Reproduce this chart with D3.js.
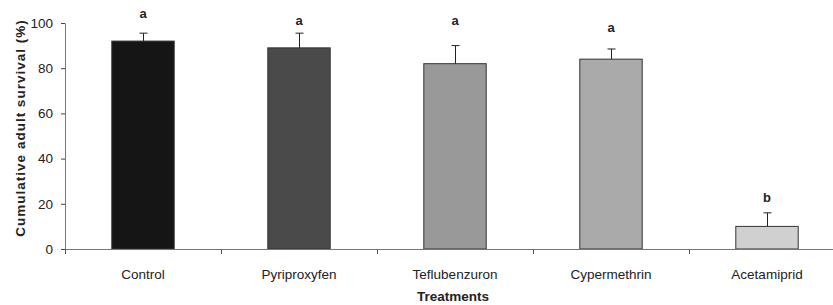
<!DOCTYPE html>
<html>
<head>
<meta charset="utf-8">
<script src="https://cdn.jsdelivr.net/npm/d3@7"></script>
<style>
  body { margin: 0; background: #fff; }
  svg { display: block; font-family: "Liberation Sans", Arial, sans-serif; }
</style>
</head>
<body>
<svg id="chart" width="833" height="305"></svg>
<script>
// Data
const treatments = ["Control", "Pyriproxyfen", "Teflubenzuron", "Cypermethrin", "Acetamiprid"];
const survival = [92, 89, 82, 84, 10];
const errors = [3.5, 6.5, 8, 4.5, 6];
const letters = ["a", "a", "a", "a", "b"];
const letterPos = [104.4, 101, 101, 97.9, 22.6];
const barColors = ["#151515", "#4a4a4a", "#999999", "#aaaaaa", "#d0d0d0"];
const yTicks = [0, 20, 40, 60, 80, 100];

const margin = { top: 23, left: 65, bottom: 56 };
const width = 833, height = 305;
const step = 156;

const $svg = d3.select("#chart");

const x = d3.scaleBand()
    .domain(treatments)
    .range([margin.left, margin.left + step * treatments.length])
    .padding(0);

const y = d3.scaleLinear()
    .domain([0, 100])
    .range([height - margin.bottom, margin.top]);

const barW = x.bandwidth() * 0.4;

// Bars
$svg.append("g")
  .selectAll("rect")
  .data(treatments)
  .join("rect")
    .attr("x", d => x(d) + (x.bandwidth() - barW) / 2)
    .attr("y", (d, i) => y(survival[i]))
    .attr("width", barW)
    .attr("height", (d, i) => y(0) - y(survival[i]))
    .attr("fill", (d, i) => barColors[i])
    .attr("stroke", "#333")
    .attr("stroke-width", 1);

// Error bars (upper only)
const $err = $svg.append("g").attr("stroke", "#222").attr("stroke-width", 1);
treatments.forEach((d, i) => {
    const cx = Math.round(x(d) + x.bandwidth() / 2) + 0.5;
    const top = y(survival[i] + errors[i]);
    $err.append("line")
        .attr("x1", cx).attr("x2", cx)
        .attr("y1", y(survival[i])).attr("y2", top);
    $err.append("line")
        .attr("x1", cx - 4).attr("x2", cx + 4)
        .attr("y1", top).attr("y2", top);
});

// Significance letters
$svg.append("g")
  .selectAll("text")
  .data(treatments)
  .join("text")
    .attr("x", d => x(d) + x.bandwidth() / 2)
    .attr("y", (d, i) => y(letterPos[i]))
    .attr("dy", "0.35em")
    .attr("text-anchor", "middle")
    .attr("font-size", 13)
    .attr("font-weight", "bold")
    .attr("fill", "#222")
    .text((d, i) => letters[i]);

// Axes
const $xAxis = $svg.append("g")
    .attr("transform", `translate(0,${y(0)})`)
    .call(d3.axisBottom(x).tickSize(0).tickPadding(20));
$xAxis.select(".domain").attr("stroke", "#777");
$xAxis.selectAll("text").attr("font-size", 13.5).attr("fill", "#222");
$xAxis.append("g")
  .selectAll("line")
  .data(d3.range(treatments.length + 1))
  .join("line")
    .attr("x1", i => margin.left + i * step + 0.5)
    .attr("x2", i => margin.left + i * step + 0.5)
    .attr("y1", 0).attr("y2", 5)
    .attr("stroke", "#555");

const $yAxis = $svg.append("g")
    .attr("transform", `translate(${margin.left},0)`)
    .call(d3.axisLeft(y).tickValues(yTicks).tickSize(4).tickSizeOuter(0).tickPadding(8));
$yAxis.select(".domain").attr("stroke", "#777");
$yAxis.selectAll(".tick line").attr("stroke", "#444");
$yAxis.selectAll("text").attr("font-size", 13.5).attr("fill", "#222");

// Axis titles
$svg.append("text")
    .attr("x", 453)
    .attr("y", 301)
    .attr("text-anchor", "middle")
    .attr("font-size", 13.5)
    .attr("font-weight", "bold")
    .attr("fill", "#222")
    .text("Treatments");

$svg.append("text")
    .attr("transform", `translate(25,128) rotate(-90)`)
    .attr("text-anchor", "middle")
    .attr("font-size", 13.5)
    .attr("font-weight", "bold")
    .attr("letter-spacing", 1)
    .attr("fill", "#222")
    .text("Cumulative adult survival (%)");
</script>
</body>
</html>
